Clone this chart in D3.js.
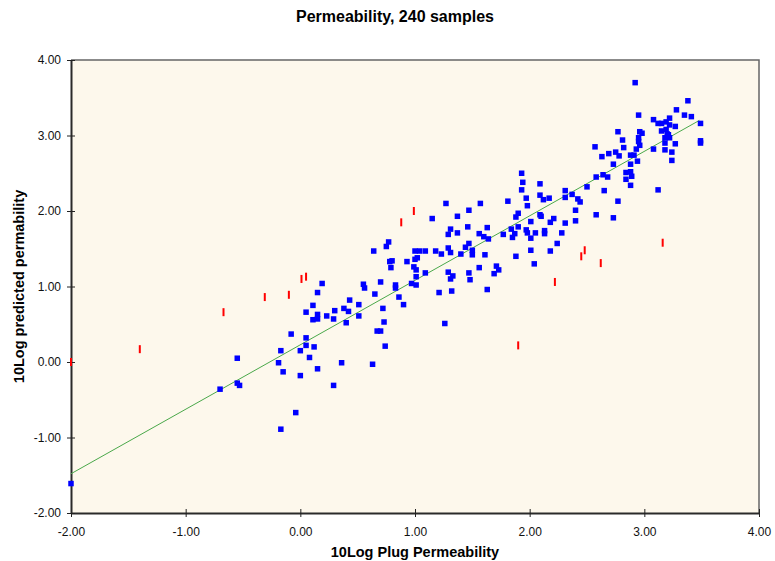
<!DOCTYPE html>
<html>
<head>
<meta charset="utf-8">
<script src="https://cdn.jsdelivr.net/npm/d3@7"></script>
<style>
  body { margin: 0; background: #fff; }
  svg { font-family: "Liberation Sans", Arial, sans-serif; display: block; }
</style>
</head>
<body>
<div id="chart"></div>
<script>
// plug permeability (x) vs predicted permeability (y), 10log values
var plugPerm = [
  0.64, 0.78, 0.19, 0.55, 0.56, 0.70, 0.15, 0.65, 0.43, 0.51, 0.11, 0.72, 0.05, 0.15, 0.15, 0.11,
  0.23, 0.30, 0.29, 0.38, 0.42, 0.51, 0.40, 0.73, 0.67, 0.70, -0.08, 0.05, 0.05, 0.12, -0.17, 0.00,
  0.74, -0.55, 0.08, -0.19, 0.36, 0.63, 0.15, -0.15, 0.00, -0.55, -0.53, -0.70, 0.29, -0.04, -0.17, -2.00,
  1.94, 2.09, 1.93, 1.97, 2.09, 2.12, 1.81, 1.98, 1.57, 1.27, 2.17, 1.47, 1.90, 1.88, 2.09, 2.10,
  1.37, 1.15, 2.01, 1.46, 1.63, 1.31, 1.84, 1.90, 1.97, 2.13, 1.29, 1.37, 1.56, 1.60, 1.64, 1.77,
  1.87, 1.85, 1.98, 2.01, 2.05, 2.13, 0.77, 0.75, 1.47, 1.44, 1.29, 1.00, 1.04, 1.09, 1.18, 1.31,
  1.23, 1.40, 1.50, 1.50, 1.61, 2.01, 2.18, 1.02, 1.00, 0.80, 0.93, 1.88, 0.79, 0.99, 1.01, 1.09,
  1.29, 1.47, 1.56, 1.71, 1.73, 1.69, 2.04, 1.01, 1.33, 1.31, 1.48, 0.83, 0.83, 0.97, 1.01, 1.21,
  1.32, 1.63, 0.86, 0.90, 1.26, 1.93,
  2.92, 3.38, 3.28, 3.35, 3.41, 2.95, 3.08, 3.12, 3.15, 3.19, 3.22, 3.22, 3.27, 3.49, 3.15, 3.19,
  3.20, 3.21, 3.22, 3.18, 3.18, 3.27, 3.18, 3.24, 3.24, 3.49, 3.49, 3.08, 2.96, 2.98, 2.95, 2.95,
  2.96, 2.93, 2.77, 2.81, 2.82, 2.57, 2.63, 2.69, 2.75, 2.78, 2.88, 2.91, 2.94, 2.88, 2.73, 2.84,
  2.88, 2.89, 2.84, 2.88, 2.58, 2.64, 2.68, 2.50, 2.65, 3.12, 2.31, 2.31, 2.37, 2.42, 2.44, 2.77,
  2.40, 2.21, 2.18, 2.31, 2.40, 2.58, 2.73, 2.28, 2.24
];
var predPerm = [
  1.47, 1.33, 1.04, 1.03, 0.98, 1.06, 0.92, 0.90, 0.82, 0.76, 0.75, 0.71, 0.66, 0.63, 0.57, 0.56,
  0.61, 0.68, 0.57, 0.71, 0.67, 0.61, 0.52, 0.53, 0.41, 0.41, 0.37, 0.32, 0.22, 0.20, 0.15, 0.15,
  0.21, 0.05, 0.06, -0.01, -0.01, -0.03, -0.09, -0.13, -0.18, -0.28, -0.31, -0.36, -0.31, -0.67, -0.89, -1.61,
  2.38, 2.36, 2.28, 2.17, 2.21, 2.15, 2.13, 2.07, 2.10, 2.10, 2.17, 2.01, 1.97, 1.92, 1.95, 1.93,
  1.93, 1.90, 1.86, 1.79, 1.78, 1.76, 1.76, 1.79, 1.75, 1.74, 1.69, 1.71, 1.70, 1.66, 1.63, 1.69,
  1.70, 1.65, 1.71, 1.64, 1.71, 1.70, 1.59, 1.53, 1.57, 1.52, 1.51, 1.47, 1.47, 1.47, 1.47, 1.45,
  1.43, 1.43, 1.48, 1.42, 1.42, 1.48, 1.47, 1.38, 1.36, 1.34, 1.33, 1.40, 1.25, 1.26, 1.22, 1.18,
  1.19, 1.18, 1.25, 1.27, 1.22, 1.17, 1.30, 1.13, 1.14, 1.10, 1.09, 1.02, 0.98, 1.04, 1.02, 0.92,
  0.94, 0.96, 0.86, 0.76, 0.51, 2.50,
  3.70, 3.46, 3.34, 3.27, 3.25, 3.27, 3.21, 3.16, 3.16, 3.18, 3.23, 3.14, 3.12, 3.16, 3.06, 3.08,
  3.02, 3.01, 2.97, 2.97, 2.90, 2.89, 2.81, 2.78, 2.67, 2.93, 2.90, 2.82, 3.05, 3.03, 2.97, 2.92,
  2.87, 2.82, 3.05, 2.94, 2.84, 2.85, 2.72, 2.76, 2.78, 2.73, 2.74, 2.74, 2.66, 2.62, 2.62, 2.51,
  2.52, 2.46, 2.42, 2.34, 2.45, 2.48, 2.45, 2.32, 2.27, 2.28, 2.27, 2.18, 2.22, 2.16, 2.12, 2.13,
  2.01, 1.90, 1.85, 1.84, 1.87, 1.95, 1.91, 1.71, 1.57
];

// red markers (outliers)
var outlierX = [-2.00, -1.40, -0.67, -0.31, -0.10, 0.01, 0.05, 0.88, 0.99, 1.90, 2.22, 2.45, 2.48, 2.62, 3.16];
var outlierY = [0.00, 0.17, 0.66, 0.86, 0.89, 1.10, 1.13, 1.85, 2.00, 0.22, 1.06, 1.40, 1.48, 1.31, 1.58];

// trend line
var fitSlope = 0.854;
var fitIntercept = 0.228;
var fitRange = [-2.00, 3.48];

var xTicks = [-2, -1, 0, 1, 2, 3, 4];
var yTicks = [-2, -1, 0, 1, 2, 3, 4];

var width = 775, height = 561;
var margin = { top: 60, right: 16, bottom: 48, left: 71 };

var svg = d3.select("#chart").append("svg")
    .attr("width", width)
    .attr("height", height);

var x = d3.scaleLinear().domain([-2, 4]).range([margin.left, width - margin.right]);
var y = d3.scaleLinear().domain([-2, 4]).range([height - margin.bottom, margin.top]);
var fmt = function(d) { return d.toFixed(2); };

// plot area
svg.append("rect")
    .attr("x", x(-2)).attr("y", y(4))
    .attr("width", x(4) - x(-2)).attr("height", y(-2) - y(4))
    .attr("fill", "#fdf8ec");

// top and right frame
svg.append("path")
    .attr("d", "M" + x(-2) + "," + y(4) + "H" + x(4) + "V" + y(-2))
    .attr("fill", "none")
    .attr("stroke", "#666")
    .attr("stroke-width", 1.5);

// axes
var xAxis = svg.append("g")
    .attr("transform", "translate(0," + y(-2) + ")")
    .call(d3.axisBottom(x).tickValues(xTicks).tickFormat(fmt).tickSizeOuter(0));
xAxis.selectAll(".tick line").attr("y1", -4).attr("y2", 4).attr("stroke", "#222");
xAxis.selectAll(".tick text").attr("y", 14).attr("dy", "0.71em");

var yAxis = svg.append("g")
    .attr("transform", "translate(" + x(-2) + ",0)")
    .call(d3.axisLeft(y).tickValues(yTicks).tickFormat(fmt).tickSizeOuter(0));
yAxis.selectAll(".tick line").attr("x1", -4).attr("x2", 4).attr("stroke", "#222");
yAxis.selectAll(".tick text").attr("x", -10);

svg.selectAll(".domain").attr("stroke", "#2a2a2a").attr("stroke-width", 2);
svg.selectAll(".tick text")
    .attr("fill", "#111")
    .style("font-size", "12px")
    .style("font-family", "'Liberation Sans', Arial, sans-serif");

// trend line
svg.append("line")
    .attr("x1", x(fitRange[0]))
    .attr("y1", y(fitIntercept + fitSlope * fitRange[0]))
    .attr("x2", x(fitRange[1]))
    .attr("y2", y(fitIntercept + fitSlope * fitRange[1]))
    .attr("stroke", "#4aa84a")
    .attr("stroke-width", 1);

// blue squares
var sq = 5.5;
svg.selectAll("rect.pt")
    .data(d3.range(plugPerm.length))
    .enter()
    .append("rect")
    .attr("class", "pt")
    .attr("x", function(i) { return x(plugPerm[i]) - sq / 2; })
    .attr("y", function(i) { return y(predPerm[i]) - sq / 2; })
    .attr("width", sq)
    .attr("height", sq)
    .attr("fill", "#0000ff");

// red markers
svg.selectAll("rect.out")
    .data(d3.range(outlierX.length))
    .enter()
    .append("rect")
    .attr("class", "out")
    .attr("x", function(i) { return x(outlierX[i]) - 1; })
    .attr("y", function(i) { return y(outlierY[i]) - 4; })
    .attr("width", 2)
    .attr("height", 8)
    .attr("fill", "#ff0000");

// titles
svg.append("text")
    .attr("x", 395)
    .attr("y", 22)
    .attr("text-anchor", "middle")
    .style("font-size", "16px")
    .style("font-weight", "bold")
    .text("Permeability, 240 samples");

svg.append("text")
    .attr("x", (x(-2) + x(4)) / 2)
    .attr("y", 557)
    .attr("text-anchor", "middle")
    .style("font-size", "14.5px")
    .style("font-weight", "bold")
    .text("10Log Plug Permeability");

svg.append("text")
    .attr("transform", "translate(24," + ((y(-2) + y(4)) / 2) + ") rotate(-90)")
    .attr("text-anchor", "middle")
    .style("font-size", "14.5px")
    .style("font-weight", "bold")
    .text("10Log predicted permability");
</script>
</body>
</html>
